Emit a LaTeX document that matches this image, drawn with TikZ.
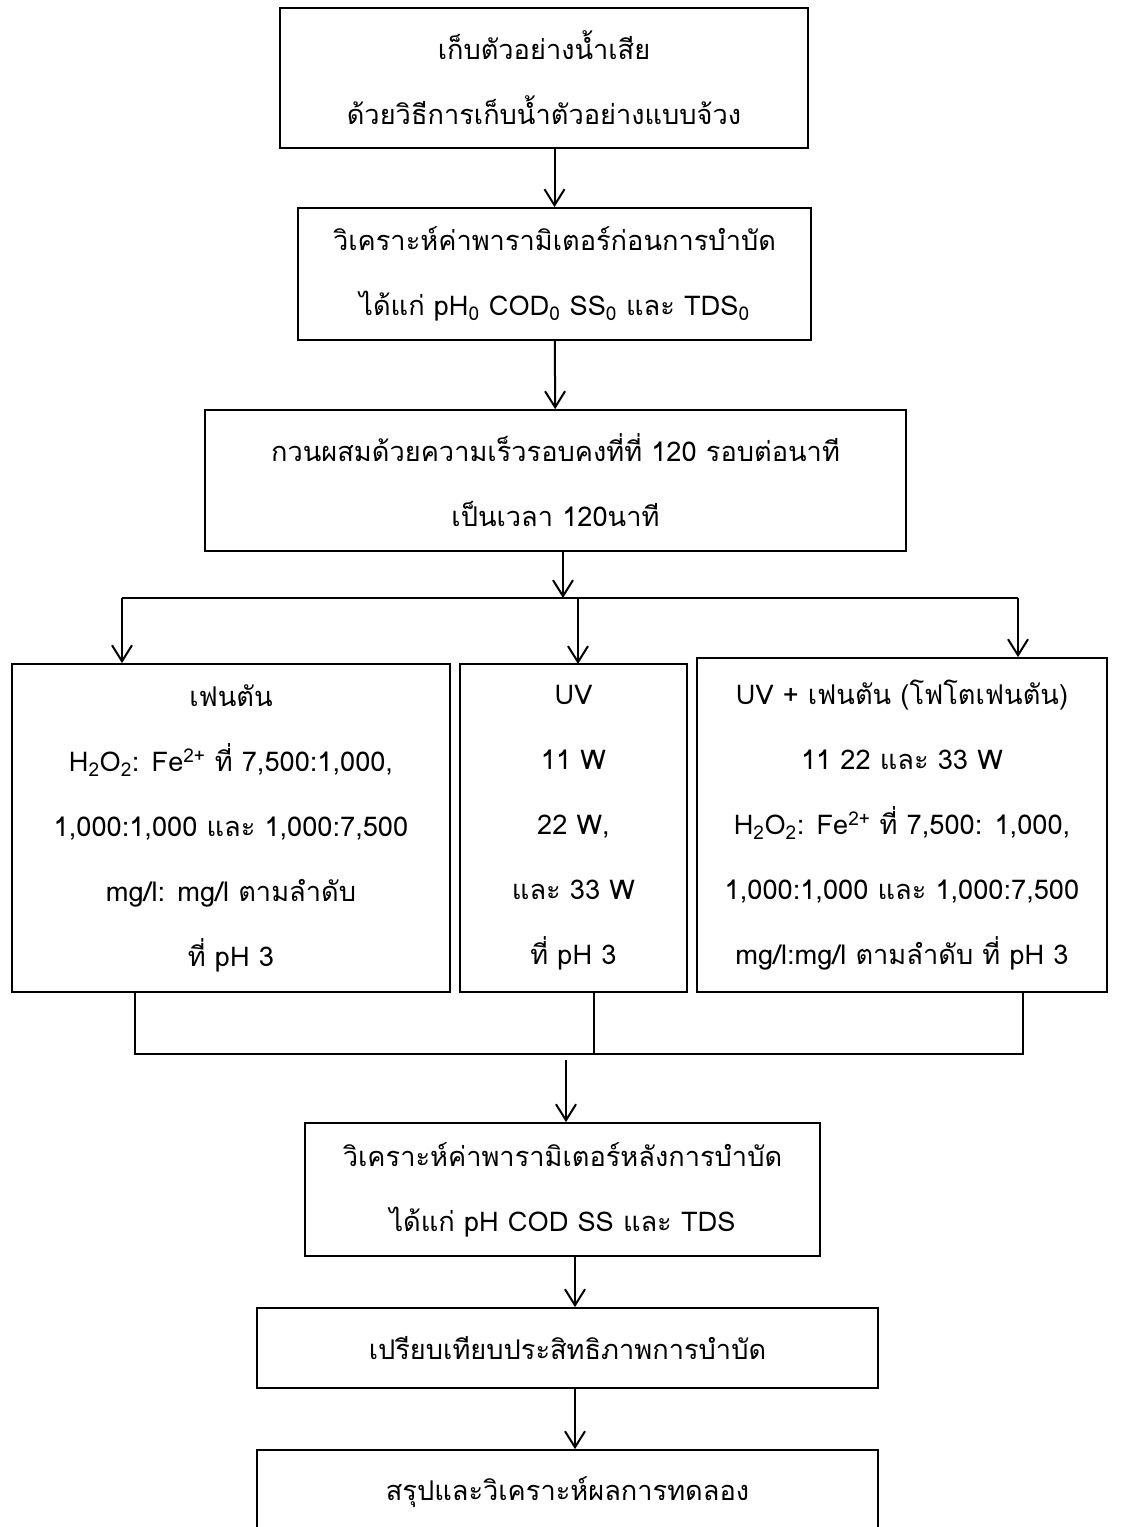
\documentclass[tikz,border=0pt]{standalone}
\usepackage{fontspec}
\setmainfont[Script=Thai]{Loma}
\usepackage{tikz}
\usetikzlibrary{positioning,arrows.meta,calc}

\begin{document}
\begin{tikzpicture}[
    x=1pt, y=-1pt,
    font=\fontsize{27.2}{65}\selectfont,
    stepbox/.style={
        draw=black,
        line width=1.8pt,
        inner sep=0pt,
        align=center
    },
    flowaux/.style={
        black,
        line width=2pt,
        -{Straight Barb[length=16pt,width=20pt,line width=2pt]}
    },
    joinline/.style={
        black,
        line width=2pt
    }
]

\useasboundingbox (0,0) rectangle (1136,1527);

% sampling and first analysis
\node[stepbox, minimum width=528pt, minimum height=140pt] (sample) at (544,78)
{เก็บตัวอย่างน้ำเสีย\\ด้วยวิธีการเก็บน้ำตัวอย่างแบบจ้วง};

\node[stepbox, minimum width=513pt, minimum height=132pt] (before) at (554.5,274)
{วิเคราะห์ค่าพารามิเตอร์ก่อนการบำบัด\\ได้แก่ pH\textsubscript{0} COD\textsubscript{0} SS\textsubscript{0} และ TDS\textsubscript{0}};

\node[stepbox, minimum width=701pt, minimum height=141pt] (stir) at (555.5,480.5)
{กวนผสมด้วยความเร็วรอบคงที่ที่ 120 รอบต่อนาที\\เป็นเวลา 120นาที};

\draw[flowaux] (before.north |- sample.south) -- (before.north);
\draw[flowaux] (before) -- (stir);

% three treatments
\node[stepbox, minimum width=438pt, minimum height=328pt] (fenton) at (231,828)
{เฟนตัน\\H\textsubscript{2}O\textsubscript{2}: Fe\textsuperscript{2+} ที่ 7,500:1,000,\\1,000:1,000 และ 1,000:7,500\\mg/l: mg/l ตามลำดับ\\ที่ pH 3};

\node[stepbox, minimum width=227pt, minimum height=328pt] (uv) at (573.5,828)
{UV\\11 W\\22 W,\\และ 33 W\\ที่ pH 3};

\node[stepbox, minimum width=410pt, minimum height=334pt] (photo) at (902,825)
{UV + เฟนตัน (โฟโตเฟนตัน)\\11 22 และ 33 W\\H\textsubscript{2}O\textsubscript{2}: Fe\textsuperscript{2+} ที่ 7,500: 1,000,\\1,000:1,000 และ 1,000:7,500\\mg/l:mg/l ตามลำดับ ที่ pH 3};

% split line
\coordinate (splitL) at (122,598);
\coordinate (splitR) at (1018,598);
\coordinate (splitM) at (563,598);
\draw[joinline] (splitL) -- (splitR);
\draw[flowaux] (stir.south -| splitM) -- (splitM);
\draw[flowaux] (splitL) -- (splitL |- fenton.north);
\draw[flowaux] (578,598) -- (578,664);
\draw[flowaux] (splitR) -- (splitR |- photo.north);

% join line
\coordinate (joinL) at (135,1054);
\coordinate (joinR) at (1023,1054);
\coordinate (joinM) at (594,1054);
\draw[joinline] (fenton.south -| joinL) -- (joinL) -- (joinR) -- (photo.south -| joinR);
\draw[joinline] (uv.south -| joinM) -- (joinM);

% after treatment
\node[stepbox, minimum width=515pt, minimum height=133pt] (after) at (562.5,1189.5)
{วิเคราะห์ค่าพารามิเตอร์หลังการบำบัด\\ได้แก่ pH COD SS และ TDS};

\node[stepbox, minimum width=621pt, minimum height=80pt] (compare) at (567.5,1348)
{เปรียบเทียบประสิทธิภาพการบำบัด};

\node[stepbox, minimum width=621pt, minimum height=85pt] (sum) at (567.5,1492.5)
{สรุปและวิเคราะห์ผลการทดลอง};

\draw[flowaux] (566,1060) -- (after.north -| 566,0);
\draw[flowaux] (after.south -| 575,0) -- (compare.north -| 575,0);
\draw[flowaux] (compare.south -| 575,0) -- (sum.north -| 575,0);

\end{tikzpicture}
\end{document}
